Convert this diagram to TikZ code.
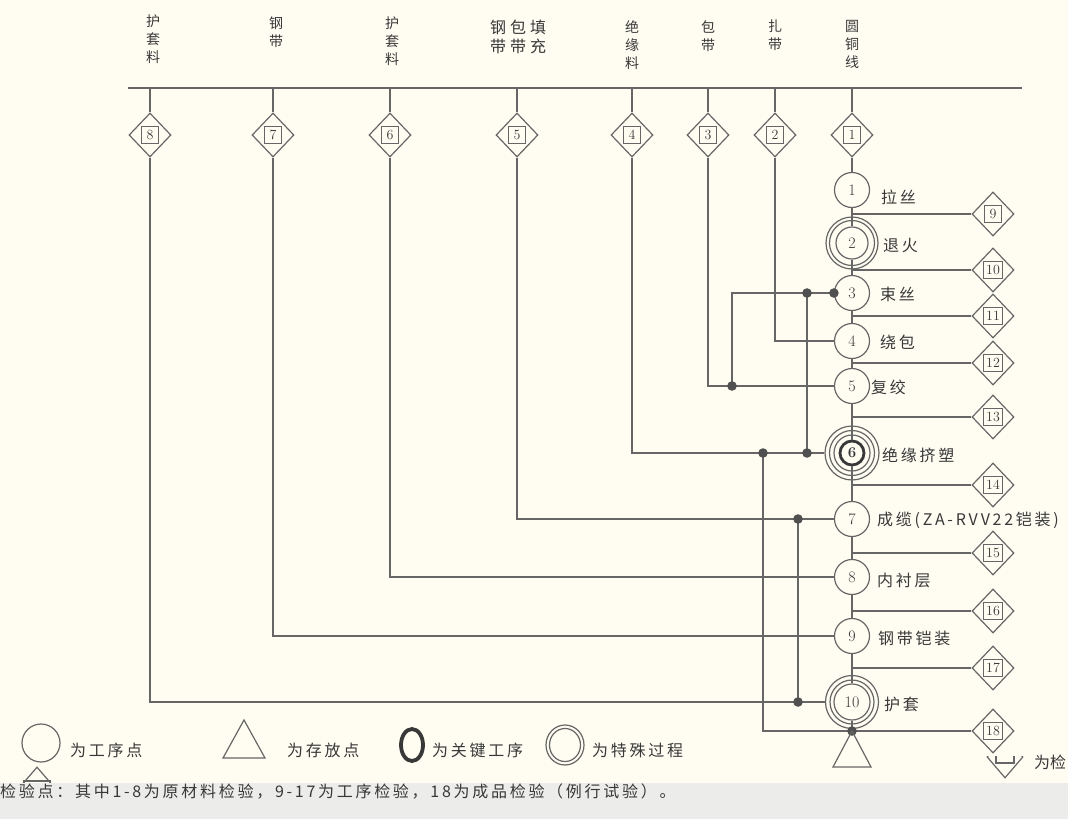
\documentclass[tikz,border=0pt]{standalone}
\usepackage{fontspec}
\usepackage{tikz}
\usetikzlibrary{shapes.geometric}
\newfontfamily\cjk[LetterSpace=17]{Noto Sans CJK SC}
\newfontfamily\cjkhead{Noto Sans CJK SC}
\definecolor{paper}{HTML}{FFFDF2}
\definecolor{band}{HTML}{ECECEA}
\definecolor{ink}{HTML}{666666}
\definecolor{inktext}{HTML}{383838}
\definecolor{dotink}{HTML}{505050}

\tikzset{
	proc/.style={circle, draw=ink, line width=1.2pt, minimum size=35pt, inner sep=0pt, text=inktext, font=\fontsize{16}{16}\selectfont},
	ring/.style={circle, draw=ink, line width=1.2pt, minimum size=#1, inner sep=0pt},
	insp/.style={diamond, draw=ink, line width=1.2pt, minimum width=42pt, minimum height=44pt, inner sep=0pt},
	numbox/.style={draw=ink, line width=1.2pt, minimum width=17pt, minimum height=17pt, inner xsep=2.5pt, inner ysep=1pt, text=inktext, font=\fontsize{14}{14}\selectfont},
	lbl/.style={anchor=west, text=inktext, font=\cjk\fontsize{16}{16}\selectfont, inner sep=0pt},
	hd/.style={anchor=north, align=center, text=inktext, font=\cjkhead\fontsize{14}{18}\selectfont, inner sep=0pt},
	conn/.style={draw=ink, line width=1.2pt},
}

\begin{document}
\begin{tikzpicture}[x=1pt,y=-1pt]
	\useasboundingbox (0,0) rectangle (1068,819);
	\fill[paper] (0,0) rectangle (1068,819);

	% material headings
	\node[hd] (h8) at (153,15) {护\\套\\料};
	\node[hd] (h7) at (276,17) {钢\\带};
	\node[hd] (h6) at (392,17) {护\\套\\料};
	\node[hd, font=\cjkhead\fontsize{16}{19}\selectfont] (h5) at (518,20) {钢\hspace{4pt}包\hspace{4pt}填\\带\hspace{4pt}带\hspace{4pt}充};
	\node[hd] (h4) at (632,20) {绝\\缘\\料};
	\node[hd] (h3) at (708,20) {包\\带};
	\node[hd] (h2) at (775,20) {扎\\带};
	\node[hd] (h1) at (852,20) {圆\\铜\\线};

	% top rail and raw material checks 1-8
	\coordinate (railL) at (128,88);
	\coordinate (railR) at (1022,88);
	\draw[conn] (railL) -- (railR);
	\foreach \n/\x in {1/852,2/775,3/708,4/632,5/517,6/390,7/273,8/150}{
		\coordinate (t\n) at (\x,88);
		\node[insp] (m\n) at (\x,135) {};
		\node[numbox] (mb\n) at (m\n) {\n};
		\draw[conn] (t\n) -- (m\n.north);
	}

	% process points
	\node[proc] (p1) at (852,190) {1};
	\node[proc, minimum size=32pt] (p2) at (852,243) {2};
	\node[ring=45pt] (p2a) at (p2) {};
	\node[ring=52pt] (p2o) at (p2) {};
	\node[proc] (p3) at (852,293) {3};
	\node[proc] (p4) at (852,341) {4};
	\node[proc] (p5) at (852,386) {5};
	\node[proc, minimum size=24pt, line width=2.8pt, draw=inktext, font=\bfseries\fontsize{15}{15}\selectfont] (p6) at (852,453) {6};
	\node[ring=36pt] (p6a) at (p6) {};
	\node[ring=45pt] (p6b) at (p6) {};
	\node[ring=54pt] (p6o) at (p6) {};
	\node[proc] (p7) at (852,519) {7};
	\node[proc] (p8) at (852,577) {8};
	\node[proc] (p9) at (852,636) {9};
	\node[proc, minimum size=36pt] (p10) at (852,702) {10};
	\node[ring=44pt] (p10a) at (p10) {};
	\node[ring=53pt] (p10o) at (p10) {};
	\coordinate (s) at (852,731);

	\node[lbl] (l1) at (881,197) {拉丝};
	\node[lbl] (l2) at (883,246) {退火};
	\node[lbl] (l3) at (880,294) {束丝};
	\node[lbl] (l4) at (880,342) {绕包};
	\node[lbl] (l5) at (871,387) {复绞};
	\node[lbl] (l6) at (882,455) {绝缘挤塑};
	\node[lbl] (l7) at (877,520) {成缆(ZA-RVV22铠装)};
	\node[lbl] (l8) at (877,580) {内衬层};
	\node[lbl] (l9) at (878,638) {钢带铠装};
	\node[lbl] (l10) at (884,704) {护套};

	% main line
	\draw[conn] (m1) -- (p1) -- (p2) -- (p3) -- (p4) -- (p5) -- (p6) -- (p7) -- (p8) -- (p9) -- (p10) -- (s);

	% process checks 9-18
	\foreach \n/\y in {9/214,10/270,11/316,12/363,13/417,14/485,15/553,16/611,17/668,18/731}{
		\node[insp] (m\n) at (993,\y) {};
		\node[numbox] (mb\n) at (m\n) {\n};
		\draw[conn] (m\n.west) -- (m\n.west -| p1.center);
	}

	% materials into the line
	\draw[conn] (m2) |- (p4);
	\draw[conn] (m3) |- (p5);
	\draw[conn] (m4) |- (p6o);
	\draw[conn] (m5) |- (p7);
	\draw[conn] (m6) |- (p8);
	\draw[conn] (m7) |- (p9);
	\draw[conn] (m8) |- (p10o);

	\coordinate (j5) at (732,386);
	\coordinate (j3) at (807,293);
	\coordinate (j6) at (807,453);
	\coordinate (k6) at (763,453);
	\coordinate (j7) at (798,519);
	\coordinate (j10) at (798,702);
	\draw[conn] (j5) |- (p3);
	\draw[conn] (j3) -- (j6);
	\draw[conn] (k6) |- (s);
	\draw[conn] (j7) -- (j10);
	\foreach \c in {j5,j3,j6,k6,j7,j10,s} \fill[dotink] (\c) circle (4.8pt);
	\fill[dotink] (p3.west) circle (4.8pt);

	% storage point
	\draw[conn] (s) -- ++(-19,36) -- ++(38,0) -- cycle;

	% legend
	\node[proc, minimum size=38pt] (lg1) at (41,743) {};
	\node[lbl] (lt1) at (70,750) {为工序点};
	\draw[conn] (244,720) -- (265,758) -- (223,758) -- cycle;
	\node[lbl] (lt2) at (287,750) {为存放点};
	\draw[inktext, line width=3.8pt] (412,745) ellipse (11pt and 16pt);
	\node[lbl] (lt3) at (432,750) {为关键工序};
	\draw[conn] (565,745) ellipse (19pt and 20pt) (565,745) ellipse (15.5pt and 16.5pt);
	\node[lbl] (lt4) at (592,750) {为特殊过程};
	\node[insp, minimum width=40pt, minimum height=46pt] (lg5) at (37,790) {};
	\node[numbox, minimum width=26pt, minimum height=18pt] (lb5) at (lg5) {};
	\begin{scope}
		\clip (980,756) rectangle (1035,785);
		\node[insp, minimum width=36pt, minimum height=42pt] (lg6) at (1005,757) {};
		\node[numbox, minimum width=18pt, minimum height=12pt] (lb6) at (lg6) {};
	\end{scope}
	\node[lbl, font=\cjkhead\fontsize{16}{16}\selectfont] (lt6) at (1034,762) {为检};

	% note
	\fill[band] (0,783) rectangle (1068,819);
	\node[lbl] (note) at (0,791) {检验点：其中1-8为原材料检验，9-17为工序检验，18为成品检验（例行试验）。};
\end{tikzpicture}
\end{document}
